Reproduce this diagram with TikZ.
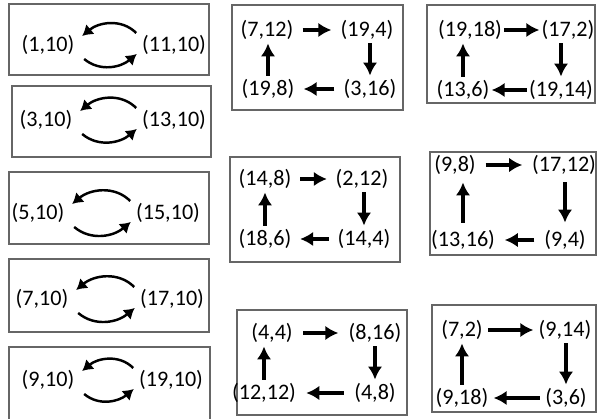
\documentclass[tikz,border=0pt]{standalone}
\usepackage{fontspec}
\setmainfont{Carlito}
\usetikzlibrary{arrows.meta}

\begin{document}
\begin{tikzpicture}[
  pt/.style={font=\fontsize{12.6}{14}\selectfont, text=black, inner sep=0pt},
  frame/.style={draw=black!60, line width=0.8pt},
  cyc/.style={-{Latex[length=2.6mm, width=2.9mm]}, line width=2.1pt},
  pairarc/.style={-{Latex[length=2.1mm, width=2.6mm]}, line width=1.4pt}
]
\useasboundingbox (0,0) rectangle (11.94,-8.38);

% two-point swaps, left column
\draw[frame] (0.18,-0.08) rectangle (4.18,-1.50);
\draw[frame] (0.24,-1.72) rectangle (4.22,-3.14);
\draw[frame] (0.18,-3.44) rectangle (4.18,-4.88);
\draw[frame] (0.18,-5.18) rectangle (4.18,-6.64);
\draw[frame] (0.18,-6.94) rectangle (4.20,-8.50);

\node[pt] (p1l) at (0.96,-0.90) {(1,10)};
\node[pt] (p1r) at (3.48,-0.90) {(11,10)};
\node[pt] (p2l) at (0.92,-2.40) {(3,10)};
\node[pt] (p2r) at (3.48,-2.40) {(13,10)};
\node[pt] (p3l) at (0.76,-4.26) {(5,10)};
\node[pt] (p3r) at (3.36,-4.26) {(15,10)};
\node[pt] (p4l) at (0.84,-5.98) {(7,10)};
\node[pt] (p4r) at (3.44,-5.98) {(17,10)};
\node[pt] (p5l) at (0.96,-7.60) {(9,10)};
\node[pt] (p5r) at (3.42,-7.60) {(19,10)};

\foreach \i in {1,...,5} {
  \draw[pairarc] ([shift={(-0.11,0.24)}]p\i r.west) to[out=135, in=40]
    ([shift={(0.15,0.18)}]p\i l.east);
  \draw[pairarc] ([shift={(0.19,-0.28)}]p\i l.east) to[out=-40, in=-140]
    ([shift={(-0.10,-0.18)}]p\i r.west);
}

% four-point cycles
\draw[frame] (4.64,-0.10) rectangle (8.06,-2.20);
\node[pt] (m1a) at (5.34,-0.60) {(7,12)};
\node[pt] (m1b) at (7.34,-0.60) {(19,4)};
\node[pt] (m1c) at (7.40,-1.78) {(3,16)};
\node[pt] (m1d) at (5.36,-1.78) {(19,8)};

\draw[frame] (8.54,-0.10) rectangle (11.90,-2.06);
\node[pt] (r1a) at (9.40,-0.60) {(19,18)};
\node[pt] (r1b) at (11.36,-0.60) {(17,2)};
\node[pt] (r1c) at (11.22,-1.80) {(19,14)};
\node[pt] (r1d) at (9.26,-1.80) {(13,6)};

\draw[frame] (4.60,-3.14) rectangle (8.00,-5.24);
\node[pt] (m2a) at (5.30,-3.58) {(14,8)};
\node[pt] (m2b) at (7.24,-3.58) {(2,12)};
\node[pt] (m2c) at (7.28,-4.78) {(14,4)};
\node[pt] (m2d) at (5.30,-4.78) {(18,6)};

\draw[frame] (8.60,-3.04) rectangle (11.92,-5.10);
\node[pt] (r2a) at (9.10,-3.30) {(9,8)};
\node[pt] (r2b) at (11.28,-3.30) {(17,12)};
\node[pt] (r2c) at (11.30,-4.80) {(9,4)};
\node[pt] (r2d) at (9.26,-4.80) {(13,16)};

\draw[frame] (4.74,-6.20) rectangle (8.14,-8.30);
\node[pt] (m3a) at (5.44,-6.66) {(4,4)};
\node[pt] (m3b) at (7.50,-6.66) {(8,16)};
\node[pt] (m3c) at (7.50,-7.86) {(4,8)};
\node[pt] (m3d) at (5.28,-7.86) {(12,12)};

\draw[frame] (8.64,-6.10) rectangle (11.92,-8.24);
\node[pt] (r3a) at (9.24,-6.60) {(7,2)};
\node[pt] (r3b) at (11.30,-6.60) {(9,14)};
\node[pt] (r3c) at (11.32,-7.96) {(3,6)};
\node[pt] (r3d) at (9.24,-7.96) {(9,18)};

% \h, \v = gap left at the ends of the horizontal and vertical arrows
\foreach \q/\h/\v in {m1/0.18/0.07, r1/0.04/0.07, m2/0.17/0.07,
                      r2/0.19/0.15, m3/0.20/0.07, r3/0.10/0.07} {
  \draw[cyc, shorten <=\h cm, shorten >=\h cm] (\q a) -- (\q b);
  \draw[cyc, shorten <=\v cm, shorten >=\v cm] (\q b.south -| \q c) -- (\q c.north);
  \draw[cyc, shorten <=\h cm, shorten >=\h cm] (\q c) -- (\q d);
  \draw[cyc, shorten <=\v cm, shorten >=\v cm] (\q d.north) -- (\q d.north |- \q a.south);
}
\end{tikzpicture}
\end{document}
